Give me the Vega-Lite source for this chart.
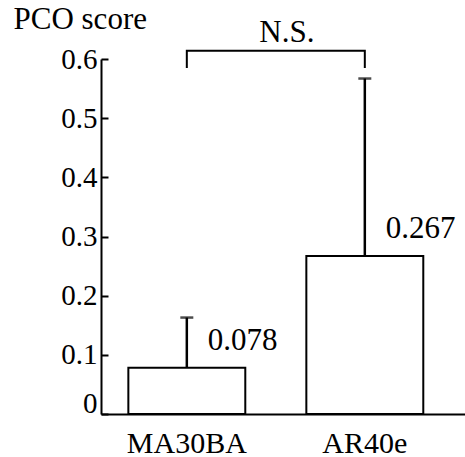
{
  "$schema": "https://vega.github.io/schema/vega-lite/v6.json",
  "width": 364,
  "height": 355,
  "autosize": {"type": "none"},
  "padding": {"left": 101, "top": 59, "right": 0, "bottom": 43},
  "background": "white",
  "config": {
    "view": {"stroke": null},
    "font": "Liberation Serif",
    "text": {"font": "Liberation Serif", "color": "black"}
  },
  "datasets": {
    "bars": [
      {"group": "MA30BA", "mean": 0.078, "upper": 0.163},
      {"group": "AR40e", "mean": 0.267, "upper": 0.567}
    ],
    "bracket": [
      {"group": "MA30BA", "y": 0.585, "order": 1},
      {"group": "MA30BA", "y": 0.614, "order": 2},
      {"group": "AR40e", "y": 0.614, "order": 3},
      {"group": "AR40e", "y": 0.585, "order": 4}
    ],
    "note": [
      {"group": "MA30BA", "y": 0.629, "label": "N.S."}
    ]
  },
  "encoding": {
    "x": {
      "field": "group",
      "type": "nominal",
      "sort": ["MA30BA", "AR40e"],
      "scale": {"domain": ["MA30BA", "AR40e"], "paddingInner": 0.343, "paddingOuter": 0.194, "align": 0.396},
      "axis": {
        "title": null,
        "labelAngle": 0,
        "ticks": false,
        "domainColor": "black",
        "domainWidth": 2,
        "labelFont": "Liberation Serif",
        "labelFontSize": 30,
        "labelColor": "black",
        "labelBaseline": "alphabetic",
        "labelPadding": 38
      }
    }
  },
  "layer": [
    {
      "data": {"name": "bars"},
      "mark": {"type": "bar", "fill": "white", "stroke": "black", "strokeWidth": 2},
      "encoding": {
        "y": {
          "field": "mean",
          "type": "quantitative",
          "scale": {"domain": [0, 0.6], "nice": false, "zero": true},
          "axis": {
            "values": [0, 0.1, 0.2, 0.3, 0.4, 0.5, 0.6],
            "format": "~g",
            "grid": false,
            "domainColor": "black",
            "domainWidth": 2,
            "tickColor": "black",
            "tickWidth": 2,
            "tickSize": -7,
            "labelPadding": 11,
            "labelFont": "Liberation Serif",
            "labelFontSize": 29,
            "labelColor": "black",
            "labelOffset": {"condition": {"test": "datum.value === 0", "value": -11}, "value": 0},
            "title": "PCO score",
            "titleAngle": 0,
            "titleAlign": "left",
            "titleBaseline": "alphabetic",
            "titleX": -88,
            "titleY": -31,
            "titleFont": "Liberation Serif",
            "titleFontSize": 31,
            "titleFontWeight": "normal",
            "titleColor": "black"
          }
        }
      }
    },
    {
      "data": {"name": "bars"},
      "mark": {"type": "rule", "color": "black", "strokeWidth": 2.5},
      "encoding": {
        "y": {"field": "mean", "type": "quantitative"},
        "y2": {"field": "upper"}
      }
    },
    {
      "data": {"name": "bars"},
      "mark": {"type": "tick", "color": "black", "size": 13, "thickness": 2.5, "orient": "horizontal"},
      "encoding": {
        "y": {"field": "upper", "type": "quantitative"}
      }
    },
    {
      "data": {"name": "bars"},
      "mark": {"type": "text", "align": "left", "baseline": "alphabetic", "dx": 21, "dy": -18, "fontSize": 31, "font": "Liberation Serif", "color": "black"},
      "encoding": {
        "y": {"field": "mean", "type": "quantitative"},
        "text": {"field": "mean", "type": "quantitative", "format": ".3f"}
      }
    },
    {
      "data": {"name": "bracket"},
      "mark": {"type": "line", "color": "black", "strokeWidth": 2, "clip": false},
      "encoding": {
        "y": {"field": "y", "type": "quantitative"},
        "order": {"field": "order", "type": "quantitative"}
      }
    },
    {
      "data": {"name": "note"},
      "mark": {"type": "text", "align": "center", "baseline": "alphabetic", "dx": 100, "fontSize": 31, "font": "Liberation Serif", "color": "black"},
      "encoding": {
        "y": {"field": "y", "type": "quantitative"},
        "text": {"field": "label", "type": "nominal"}
      }
    }
  ]
}
